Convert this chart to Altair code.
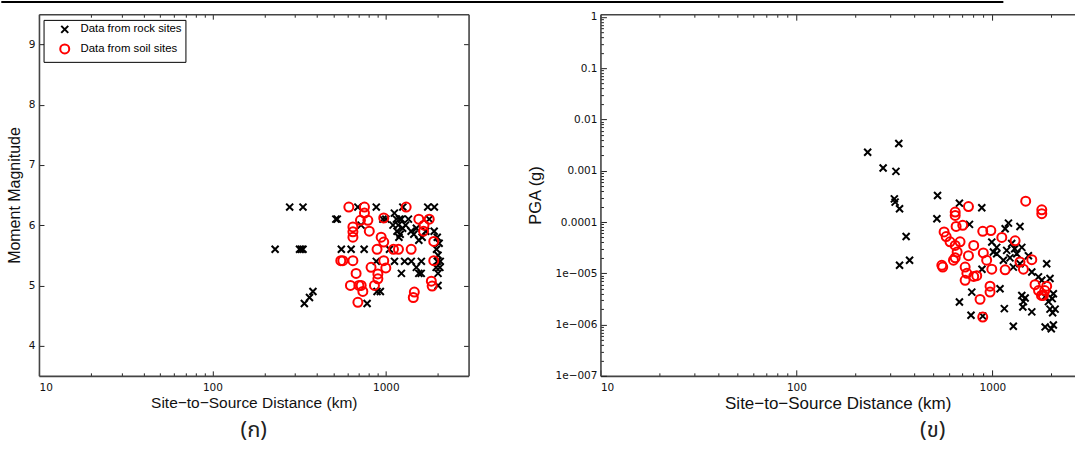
import altair as alt
import pandas as pd

# ---------------- data ----------------
series_names = ["Data from rock sites", "Data from soil sites"]

rock_left_dist = [279, 333, 230, 318, 325, 333, 339, 363, 380, 515, 525, 554, 631, 750, 690, 881,
                  1253, 1745, 1905, 720, 881, 890, 930, 780, 962, 1120, 1150, 1200, 1230, 1100, 1180,
                  1250, 1160, 1210, 1190, 1300, 1350, 1400, 1450, 1500, 1550, 1620, 1700, 1780, 1900,
                  1980, 2030, 1960, 1122, 1283, 1403, 1603, 1230, 1550, 1600, 1500, 2000, 2000, 2050,
                  1980, 2060, 2000, 1950, 1000, 1050]
rock_left_mw = [6.3, 6.3, 5.6, 5.6, 5.6, 5.6, 4.7, 4.8, 4.9, 6.1, 6.1, 5.6, 5.6, 5.6, 6.3, 6.3,
                6.3, 6.3, 6.3, 6.0, 5.4, 4.9, 4.9, 4.7, 6.1, 6.2, 6.1, 6.1, 6.1, 6.0, 6.0,
                5.95, 5.9, 5.85, 5.8, 6.0, 6.1, 5.9, 5.85, 5.95, 5.75, 5.8, 5.9, 6.1, 5.9,
                5.8, 5.7, 5.6, 5.4, 5.4, 5.4, 5.4, 5.2, 5.2, 5.2, 5.3, 5.2, 5.0, 5.3,
                5.4, 5.4, 5.5, 5.3, 6.1, 5.6]

soil_left_dist = [612, 753, 1310, 753, 714, 788, 973, 1550, 1780, 1660, 1650, 646, 646, 646, 803,
                  940, 973, 890, 1107, 1183, 1400, 1890, 1890, 1830, 1850, 1460, 1440, 973, 1000,
                  822, 900, 900, 860, 550, 565, 646, 674, 625, 721, 737, 690, 700]
soil_left_mw = [6.3, 6.3, 6.3, 6.2, 6.08, 6.08, 6.12, 6.1, 6.1, 6.0, 5.9, 5.97, 5.89, 5.8, 5.9,
                5.8, 5.72, 5.6, 5.6, 5.6, 5.6, 5.73, 5.41, 5.07, 4.99, 4.89, 4.80, 5.41, 5.29,
                5.3, 5.19, 5.11, 5.0, 5.41, 5.41, 5.41, 5.2, 5.0, 5.0, 4.9, 4.72, 5.0]

rock_right_dist = [231, 277, 322, 333, 316, 319, 336, 525, 521, 363, 336, 378, 679, 883, 764, 1208,
                   1383, 1162, 993, 1052, 1183, 1255, 1332, 1138, 1413, 1527, 1383, 1279, 1052, 1012,
                   1893, 1968, 1718, 1787, 1589, 1094, 785, 679, 778, 893, 1151, 1279, 1413, 1440,
                   1430, 1470, 1589, 1858, 1932, 1968, 2030, 2090, 2047, 2020, 1858, 1998, 2047,
                   885, 1230, 1300]
rock_right_pga = [2.3e-3, 1.13e-3, 9.7e-4, 3.4e-3, 2.83e-4, 2.44e-4, 1.81e-4, 3.29e-4, 1.16e-4,
                  5.2e-5, 1.43e-5, 1.79e-5, 2.33e-4, 1.9e-4, 9e-5, 9.5e-5, 8.2e-5, 7.4e-5, 4.06e-5,
                  3.2e-5, 2.8e-5, 3.8e-5, 2.4e-5, 1.8e-5, 3.2e-5, 2.2e-5, 1.54e-5, 1.32e-5, 2.4e-5,
                  2.6e-5, 1.54e-5, 7.9e-6, 8.5e-6, 7.3e-6, 1.06e-5, 5.0e-6, 4.3e-6, 2.76e-6, 1.52e-6,
                  1.46e-6, 2.05e-6, 9.3e-7, 3.7e-6, 2.8e-6, 2.2e-6, 3.3e-6, 1.77e-6, 3.5e-6, 2.8e-6,
                  2.0e-6, 1.7e-6, 2.0e-6, 4.0e-6, 3.2e-6, 9e-7, 8.3e-7, 9.8e-7, 1.2e-5, 2.0e-5, 3.0e-5]

soil_right_dist = [1479, 1787, 1787, 755, 646, 646, 653, 706, 567, 581, 608, 646, 661, 646, 684,
                   633, 552, 558, 726, 741, 726, 803, 832, 803, 755, 899, 935, 993, 893, 982, 973,
                   973, 865, 893, 1117, 1162, 1306, 1383, 1440, 1589, 1650, 1720, 1780, 1850, 1893,
                   1820]
soil_right_pga = [2.55e-4, 1.73e-4, 1.45e-4, 2.0e-4, 1.56e-4, 1.34e-4, 8.2e-5, 8.6e-5, 6.4e-5,
                  5.2e-5, 4.1e-5, 3.5e-5, 2.6e-5, 2.0e-5, 4.1e-5, 1.8e-5, 1.43e-5, 1.32e-5, 1.32e-5,
                  1.0e-5, 7.3e-6, 8.7e-6, 9.0e-6, 3.5e-5, 2.2e-5, 2.5e-5, 1.8e-5, 1.2e-5, 6.6e-5,
                  6.8e-5, 5.6e-6, 4.3e-6, 3.1e-6, 1.4e-6, 5.0e-5, 1.17e-5, 4.3e-5, 1.66e-5, 1.2e-5,
                  1.84e-5, 6e-6, 4.6e-6, 3.7e-6, 4.6e-6, 5.6e-6, 3.7e-6]

# text
x_title = "Site\u2212to\u2212Source Distance (km)"
y_title_left = "Moment Magnitude"
y_title_right = "PGA (g)"
caption_left = "(ก)"
caption_right = "(ข)"

# ticks
x_major = [10, 100, 1000]
x_major_labels = ["10", "100", "1000"]
x_minor_mult = [2, 3, 4, 5, 6, 7, 8, 9]
y_left_ticks = [4, 5, 6, 7, 8, 9]
y_left_labels = ["4", "5", "6", "7", "8", "9"]
y_right_major = [1e-07, 1e-06, 1e-05, 0.0001, 0.001, 0.01, 0.1, 1]
y_right_labels = ["1e\u2212007", "1e\u2212006", "1e\u2212005", "0.0001", "0.001", "0.01", "0.1", "1"]

# ---------------- helpers ----------------
XPATH = "M -1 -1 L 1 1 M -1 1 L 1 -1"
LABEL_FONT = "DejaVu Sans"
TITLE_FONT = "Liberation Sans"
THAI_FONT = "Noto Sans Thai, Loma, Garuda, Norasi, Tlwg Typo, Kinnari, DejaVu Sans, sans-serif"
DOMAIN_COLOR = "#444444"

x_ticks = sorted(x_major + [m * d for d in x_major for m in x_minor_mult if m * d < 3000])
y_right_ticks = sorted(y_right_major + [m * d for d in y_right_major[:-1] for m in x_minor_mult])


def label_expr(vals, labels):
    parts = " : ".join(f"datum.value == {v!r} ? '{l}'" for v, l in zip(vals, labels))
    return parts + " : ''"


def tick_expr(majors, big, small):
    arr = "[" + ",".join(repr(v) for v in majors) + "]"
    return {"expr": f"indexof({arr}, datum.value) >= 0 ? {-big} : {-small}"}


def frame(dist_r, val_r, dist_s, val_s):
    return pd.DataFrame({
        "dist": list(dist_r) + list(dist_s),
        "val": list(val_r) + list(val_s),
        "type": [series_names[0]] * len(dist_r) + [series_names[1]] * len(dist_s),
    })


def panel(df, x_dom, y_scale, y_ticks, y_vals, y_labels, y_title,
          sizes, leg, x_title_size, y_title_size, y_lab_pad, y_title_pad, big, right_axis):
    xs = alt.Scale(type="log", domain=x_dom, nice=False)
    color = alt.Color("type:N", scale=alt.Scale(domain=series_names, range=["black", "red"]),
                      legend=alt.Legend(
                          orient="none", legendX=leg["x"], legendY=leg["y"], title=None,
                          labelFont=TITLE_FONT, labelFontSize=leg["font"], labelColor="black",
                          strokeColor="black", fillColor="white", padding=leg["pad"],
                          rowPadding=leg["row"], symbolOffset=leg["soff"], labelOffset=leg["loff"],
                          symbolSize=leg["ssize"], symbolStrokeWidth=2))
    shape = alt.Shape("type:N", scale=alt.Scale(domain=series_names, range=[XPATH, "circle"]))
    size = alt.Size("type:N", scale=alt.Scale(domain=series_names, range=sizes), legend=None)

    common = dict(grid=False, domain=True, domainColor=DOMAIN_COLOR, domainWidth=1.6,
                  tickColor="#222", tickWidth=1)
    x_bottom = alt.Axis(orient="bottom", values=x_ticks,
                        labelExpr=label_expr(x_major, x_major_labels),
                        tickSize=tick_expr(x_major, big, 3), labelPadding=big + 7,
                        labelFont=LABEL_FONT, labelFontSize=10.5, labelColor="#111",
                        title=x_title, titleFont=TITLE_FONT, titleFontWeight="normal",
                        titleColor="#111", titleFontSize=x_title_size, titlePadding=2, **common)
    y_left = alt.Axis(orient="left", values=y_ticks,
                      labelExpr=label_expr(y_vals, y_labels),
                      tickSize=tick_expr(y_vals, big, 3), labelPadding=big + y_lab_pad,
                      labelFont=LABEL_FONT, labelFontSize=10.5, labelColor="#111",
                      title=y_title, titleFont=TITLE_FONT, titleFontWeight="normal",
                      titleColor="#111", titleFontSize=y_title_size, titlePadding=y_title_pad,
                      **common)

    points = alt.Chart(df).mark_point(filled=False, strokeWidth=2, opacity=1).encode(
        x=alt.X("dist:Q", scale=xs, axis=x_bottom),
        y=alt.Y("val:Q", scale=y_scale, axis=y_left),
        color=color, shape=shape, size=size,
    )

    x_top = alt.Axis(orient="top", values=x_ticks, labels=False, title=None,
                     tickSize=tick_expr(x_major, big, 3), **common)
    if right_axis:
        y_right = alt.Axis(orient="right", values=y_ticks, labels=False, title=None,
                           tickSize=tick_expr(y_vals, big, 3), **common)
    else:
        y_right = None
    ghost = alt.Chart(df).mark_point(opacity=0).encode(
        x=alt.X("dist:Q", scale=xs, axis=x_top),
        y=alt.Y("val:Q", scale=y_scale, axis=y_right),
    )
    return [points, ghost]


df_left = frame(rock_left_dist, rock_left_mw, soil_left_dist, soil_left_mw)
df_right = frame(rock_right_dist, rock_right_pga, soil_right_dist, soil_right_pga)

left_layers = panel(
    df_left, [10, 3000], alt.Scale(domain=[3.5, 9.5], nice=False, zero=False),
    y_left_ticks, y_left_ticks, y_left_labels, y_title_left,
    [49, 81], dict(x=4.6, y=5.7, font=11.4, pad=3.8, row=2.6, soff=11.7, loff=10, ssize=81),
    15.5, 16, 4, 6, 5, True)

header = alt.Chart(pd.DataFrame({"k": [0]})).mark_rule(color="black", strokeWidth=2).encode(
    x=alt.value(-37.7), x2=alt.value(965.3), y=alt.value(-12.3))

left = alt.layer(*left_layers, header).resolve_axis(x="independent", y="independent").properties(
    width=430, height=362,
    title=alt.TitleParams(caption_left, orient="bottom", font=THAI_FONT, fontSize=22,
                          fontWeight="normal", color="#222", offset=9, anchor="middle"))

right_layers = panel(
    df_right, [10, 2640], alt.Scale(type="log", domain=[1e-07, 1.128], nice=False),
    y_right_ticks, y_right_major, y_right_labels, y_title_right,
    [64, 108], dict(x=5.7, y=8.4, font=12.9, pad=3, row=1, soff=9.5, loff=18, ssize=100),
    17, 16.5, 3.5, 12, 6, False)

right = alt.layer(*right_layers).resolve_axis(x="independent", y="independent").properties(
    width=475, height=362,
    title=alt.TitleParams(caption_right, orient="bottom", font=THAI_FONT, fontSize=22,
                          fontWeight="normal", color="#222", offset=9, anchor="middle", dx=95))

chart = alt.hconcat(left, right, spacing=132, bounds="flush").properties(
    padding={"left": 0, "top": 0, "right": 0, "bottom": 0},
    background="white",
).configure_view(stroke=None)

chart.save("out.html", embed_options={"renderer": "svg", "actions": False})
